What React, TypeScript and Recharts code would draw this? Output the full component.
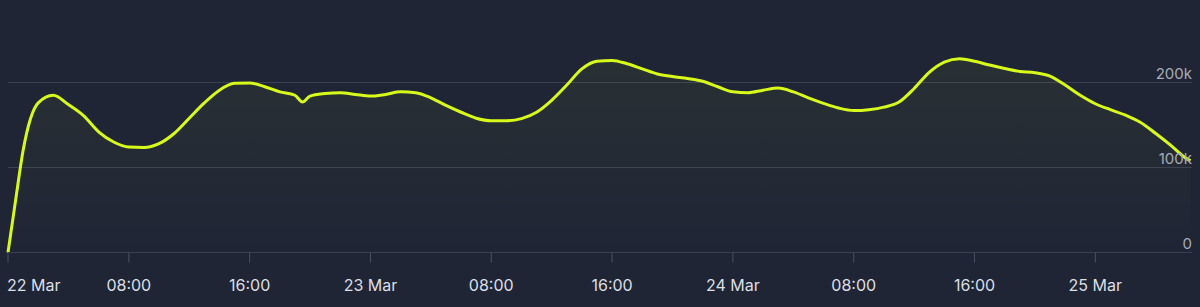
import React from "react";
import {
  AreaChart,
  Area,
  XAxis,
  YAxis,
  CartesianGrid
} from "recharts";

// hours since 22 Mar 00:00
const hours = [
  0, 0.5, 1, 2, 3, 4, 5, 6, 7, 8, 9, 10, 11, 12, 13, 14, 15, 16, 17, 18, 19, 19.5,
  20, 21, 22, 23, 24, 25, 26, 27, 28, 29, 30, 31, 32, 33, 34, 35, 36, 37, 38, 39,
  40, 41, 42, 43, 44, 45, 46, 47, 48, 49, 50, 51, 52, 53, 54, 55, 56, 57, 58, 59,
  60, 61, 62, 63, 64, 65, 66, 67, 68, 69, 70, 71, 72, 73, 74, 75, 76, 77, 78, 78.3
];

// values in thousands
const viewers = [
  0, 61, 120, 176, 185, 174, 161, 142, 130, 124, 123.5, 128, 140, 158, 176, 191, 199,
  199.5, 195, 189, 185, 177, 184, 187, 188, 186, 184, 186, 189, 188, 182, 173, 165,
  158, 155, 155, 157.5, 165, 179, 197, 216, 225, 226, 222, 216, 210, 207, 204.7,
  201.5, 195, 189, 188, 191, 193.5, 189, 182, 175.5, 170, 167, 168, 171, 177, 193,
  212, 224, 228, 225, 220.5, 216.5, 213, 211.5, 207.5, 197, 185, 175, 168, 161.5,
  153, 140, 126, 111, 108
];

const xTicks = [0, 8, 16, 24, 32, 40, 48, 56, 64, 72];
const xTickLabels = ["22 Mar", "08:00", "16:00", "23 Mar", "08:00", "16:00", "24 Mar", "08:00", "16:00", "25 Mar"];
const yTicks = [0, 100000, 200000];
const yTickLabels = ["0", "100k", "200k"];

const data = hours.map((h, i) => ({ h, v: viewers[i] * 1000 }));

const W = 1200;
const H = 307;
const PLOT_RIGHT = 1192;
const FONT = "Inter, 'Noto Sans', sans-serif";

const XTick = (props: any) => {
  const { x, y, payload, index } = props;
  const label = xTickLabels[xTicks.indexOf(payload.value)] ?? "";
  return (
    <text
      x={index === 0 ? x - 1 : x}
      y={y + 26}
      textAnchor={index === 0 ? "start" : "middle"}
      fill="#dcdfe4"
      fontSize={16}
      fontFamily={FONT}
    >
      {label}
    </text>
  );
};

const YTick = (props: any) => {
  const { y, payload } = props;
  const label = yTickLabels[yTicks.indexOf(payload.value)] ?? "";
  return (
    <text
      x={PLOT_RIGHT}
      y={y - 4}
      textAnchor="end"
      fill="#a8acb5"
      fontSize={15}
      fontFamily={FONT}
    >
      {label}
    </text>
  );
};

export default function App() {
  return (
    <div
      style={{
        position: "absolute",
        left: 0,
        top: 0,
        width: W,
        height: H,
        background: "#1f2535"
      }}
    >
      <AreaChart
        width={W}
        height={H}
        data={data}
        margin={{ top: 40, right: W - PLOT_RIGHT - 1, left: 8, bottom: 0 }}
      >
        <defs>
          <linearGradient id="fillLime" x1="0" y1="0" x2="0" y2="1">
            <stop offset="0%" stopColor="#d8fa1a" stopOpacity={0.09} />
            <stop offset="100%" stopColor="#d8fa1a" stopOpacity={0.0} />
          </linearGradient>
        </defs>
        <CartesianGrid vertical={false} stroke="#394052" syncWithTicks />
        <XAxis
          dataKey="h"
          type="number"
          domain={[0, 78.4]}
          ticks={xTicks}
          height={54.5}
          axisLine={{ stroke: "#394052" }}
          tickLine={{ stroke: "#4a5163" }}
          tickSize={10}
          tick={<XTick />}
          interval={0}
        />
        <YAxis
          orientation="right"
          width={1}
          type="number"
          domain={[0, 250000]}
          ticks={yTicks}
          interval={0}
          axisLine={false}
          tickLine={false}
          tick={<YTick />}
        />
        <Area
          type="monotone"
          dataKey="v"
          stroke="#d8fa1a"
          strokeWidth={3}
          fill="url(#fillLime)"
          dot={false}
          isAnimationActive={false}
        />
      </AreaChart>
    </div>
  );
}
